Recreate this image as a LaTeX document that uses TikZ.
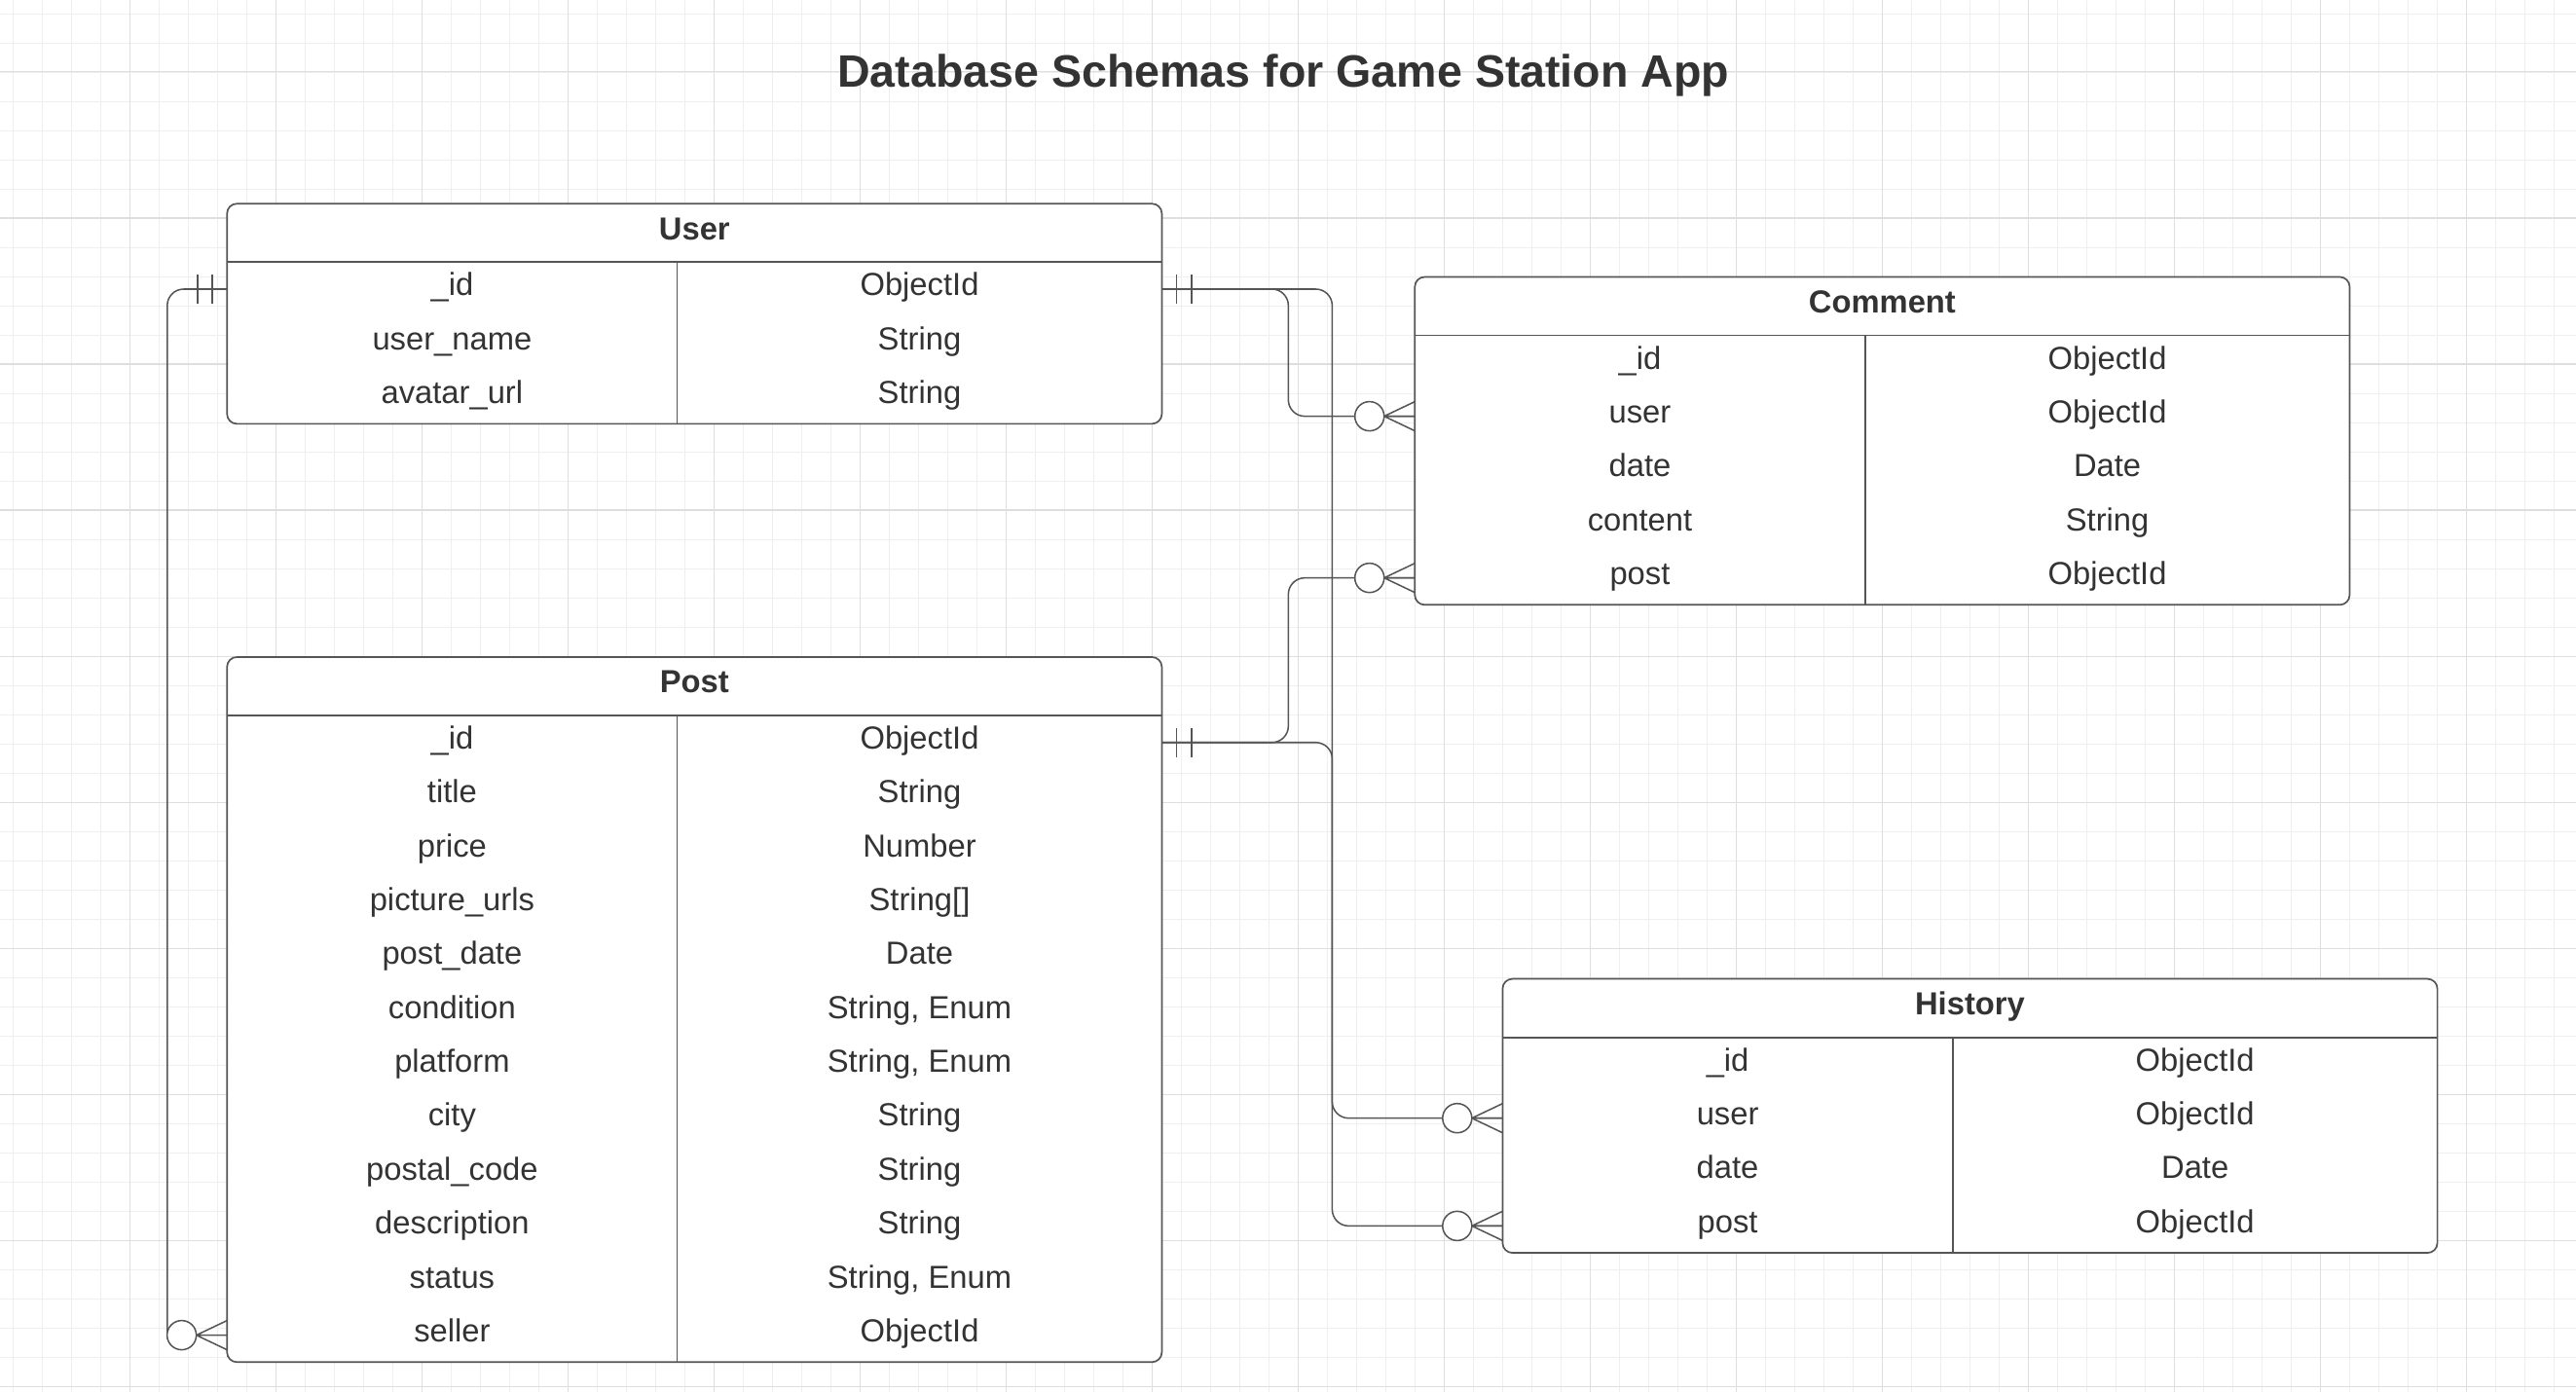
\documentclass[tikz,border=0pt]{standalone}
\usepackage{fontspec}
\setmainfont{Liberation Sans}
\usetikzlibrary{positioning,calc}
\definecolor{linec}{HTML}{555555}
\definecolor{textc}{HTML}{333333}
\definecolor{gridc}{HTML}{EFEFEF}
\definecolor{gridd}{HTML}{DEDEDE}
\tikzstyle{table}=[draw=linec,line width=1pt,rounded corners=6pt,fill=white,minimum width=569pt,anchor=north west,inner sep=0pt,outer sep=0pt]
\tikzstyle{head}=[font=\fontsize{19.4}{20}\selectfont\bfseries,text=textc,minimum width=569pt,minimum height=35.6pt,anchor=north west,inner sep=0pt,outer sep=0pt,text height=13pt,text depth=5pt]
\tikzstyle{fld}=[font=\fontsize{19.4}{20}\selectfont,text=textc,minimum width=274pt,minimum height=32.8pt,anchor=north west,inner sep=0pt,outer sep=0pt,text height=13pt,text depth=5pt]
\tikzstyle{typ}=[fld,minimum width=295pt]
\tikzstyle{sep}=[draw=linec,line width=1pt]
\tikzstyle{conn}=[draw=linec,line width=0.9pt,rounded corners=10pt]
\tikzset{
  one/.pic={\draw[linec,line width=0.9pt] (9,-8.9) -- (9,8.9) (18,-8.9) -- (18,8.9);},
  many/.pic={\draw[linec,line width=0.9pt,fill=white] (-27.6,0) circle (8.9pt);
    \draw[linec,line width=0.9pt] (-18.7,0) -- (0,-8.9) (-18.7,0) -- (0,0) (-18.7,0) -- (0,8.9);}
}

\begin{document}
\begin{tikzpicture}[x=1pt,y=-1pt]
\useasboundingbox (0,0) rectangle (1568,847.4);
\fill[white] (0,0) rectangle (1568,847.4);
\foreach \i in {0,...,87}
  \draw[gridc,line width=0.6pt] ({7.9+17.778*\i},0) -- ({7.9+17.778*\i},847.4);
\foreach \i in {0,...,47}
  \draw[gridc,line width=0.6pt] (0,{8.6+17.778*\i}) -- (1568,{8.6+17.778*\i});
\foreach \i in {0,...,16}
  \draw[gridd,line width=0.6pt] ({79+88.89*\i},0) -- ({79+88.89*\i},847.4);
\foreach \i in {0,...,9}
  \draw[gridd,line width=0.6pt] (0,{43.85+88.89*\i}) -- (1568,{43.85+88.89*\i});

\node[font=\fontsize{27.6}{30}\selectfont\bfseries,text=textc,anchor=base] (title) at (781.2,53.3) {Database Schemas for Game Station App};

% User
\node[table,minimum height=134pt] (user) at (138.2,124) {};
\node[head] (user-h) at (user.north west) {User};
\draw[sep] (user-h.south west) -- (user-h.south east);
\foreach \f/\t [count=\i] in {\_id/ObjectId,user\_name/String,avatar\_url/String}{
  \node[fld] (user-f\i) at ($(user-h.south west)+(0,{32.8*(\i-1)})$) {\f};
  \node[typ] (user-t\i) at (user-f\i.north east) {\t};
  \draw[sep] (user-f\i.north east) -- (user-f\i.south east);
}

% Post
\node[table,minimum height=429.2pt] (post) at (138.2,400) {};
\node[head] (post-h) at (post.north west) {Post};
\draw[sep] (post-h.south west) -- (post-h.south east);
\foreach \f/\t [count=\i] in {\_id/ObjectId,title/String,price/Number,picture\_urls/String[],post\_date/Date,{condition/String, Enum},{platform/String, Enum},city/String,postal\_code/String,description/String,{status/String, Enum},seller/ObjectId}{
  \node[fld] (post-f\i) at ($(post-h.south west)+(0,{32.8*(\i-1)})$) {\f};
  \node[typ] (post-t\i) at (post-f\i.north east) {\t};
  \draw[sep] (post-f\i.north east) -- (post-f\i.south east);
}

% Comment
\node[table,minimum height=199.6pt] (comment) at (861.2,168.6) {};
\node[head] (comment-h) at (comment.north west) {Comment};
\draw[sep] (comment-h.south west) -- (comment-h.south east);
\foreach \f/\t [count=\i] in {\_id/ObjectId,user/ObjectId,date/Date,content/String,post/ObjectId}{
  \node[fld] (comment-f\i) at ($(comment-h.south west)+(0,{32.8*(\i-1)})$) {\f};
  \node[typ] (comment-t\i) at (comment-f\i.north east) {\t};
  \draw[sep] (comment-f\i.north east) -- (comment-f\i.south east);
}

% History
\node[table,minimum height=166.8pt] (hist) at (914.6,595.9) {};
\node[head] (hist-h) at (hist.north west) {History};
\draw[sep] (hist-h.south west) -- (hist-h.south east);
\foreach \f/\t [count=\i] in {\_id/ObjectId,user/ObjectId,date/Date,post/ObjectId}{
  \node[fld] (hist-f\i) at ($(hist-h.south west)+(0,{32.8*(\i-1)})$) {\f};
  \node[typ] (hist-t\i) at (hist-f\i.north east) {\t};
  \draw[sep] (hist-f\i.north east) -- (hist-f\i.south east);
}

\coordinate (busA) at (784.2,0);
\coordinate (busB) at (810.9,0);
\coordinate (sellerEnd) at ($(post-f12.west)+(-36.4,0)$);

\draw[conn] (user-t1.east) -| (busA |- comment-f2.west) -- (comment-f2.west);
\draw[conn] (user-t1.east) -| (busB |- hist-f2.west) -- (hist-f2.west);
\draw[conn] (post-t1.east) -| (busA |- comment-f5.west) -- (comment-f5.west);
\draw[conn] (post-t1.east) -| (busB |- hist-f4.west) -- (hist-f4.west);
\draw[conn] (user-f1.west) -| (sellerEnd);

\pic at (user-t1.east) {one};
\pic at (post-t1.east) {one};
\pic[xscale=-1] at (user-f1.west) {one};
\pic at (comment-f2.west) {many};
\pic at (comment-f5.west) {many};
\pic at (hist-f2.west) {many};
\pic at (hist-f4.west) {many};
\pic at (post-f12.west) {many};
\end{tikzpicture}
\end{document}
